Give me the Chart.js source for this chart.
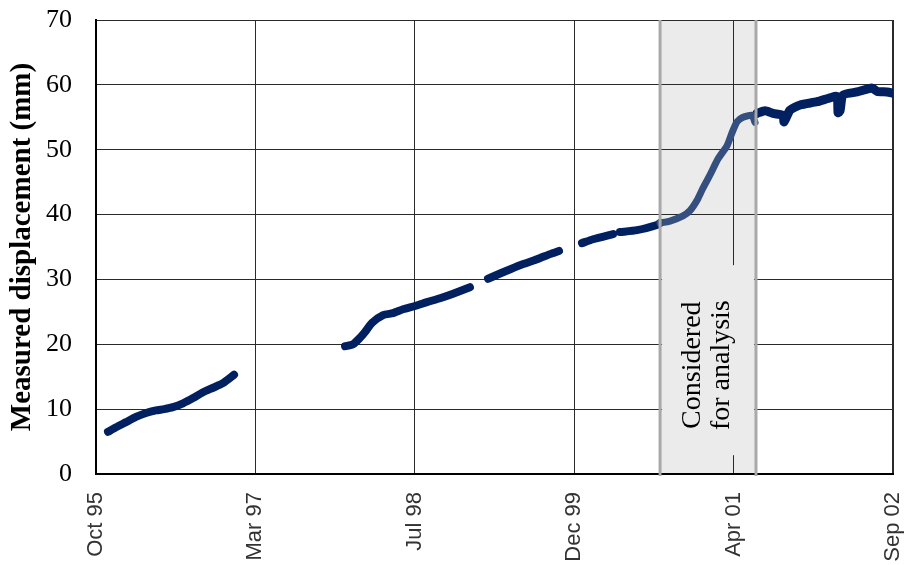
<!DOCTYPE html>
<html>
<head>
<meta charset="utf-8">
<script src="https://cdn.jsdelivr.net/npm/chart.js@4"></script>
<style>
  body { margin: 0; background: #fff; }
  #wrap { width: 906px; height: 565px; position: relative; }
</style>
</head>
<body>
<div id="wrap"><canvas id="chart"></canvas></div>
<script>
// x axis tick labels (evenly spaced from Oct 95 to Sep 02)
const tickLabels = ['Oct 95', 'Mar 97', 'Jul 98', 'Dec 99', 'Apr 01', 'Sep 02'];
const xMin = 1995.75;
const xMax = 2002.73;

// measured displacement (mm), time in decimal years, null = gap in record
const years = [
  1995.855, 1995.925, 1996.013, 1996.100, 1996.188, 1996.275, 1996.346, 1996.424,
  1996.512, 1996.600, 1996.687, 1996.775, 1996.862, 1996.959,
  1997.50,
  1997.931, 1998.001, 1998.062, 1998.106, 1998.167, 1998.264, 1998.351, 1998.439,
  1998.544, 1998.649, 1998.763, 1998.877, 1999.025,
  1999.10,
  1999.183, 1999.314, 1999.463, 1999.612, 1999.726, 1999.805,
  1999.90,
  2000.006, 2000.103, 2000.278,
  2000.31,
  2000.339, 2000.488, 2000.663, 2000.690,
  2001.10,
  2001.539, 2001.609, 2001.679, 2001.767, 2001.776, 2001.828, 2001.916, 2002.065,
  2002.178, 2002.240, 2002.249, 2002.266, 2002.292, 2002.415, 2002.546, 2002.590,
  2002.678, 2002.730
];
const displacement = [
  6.5, 7.2, 8.0, 8.8, 9.4, 9.8, 10.0, 10.3,
  10.9, 11.7, 12.6, 13.3, 14.0, 15.3,
  null,
  19.7, 20.0, 21.0, 21.9, 23.3, 24.5, 24.8, 25.4,
  25.9, 26.5, 27.1, 27.8, 28.8,
  null,
  30.1, 31.1, 32.2, 33.1, 33.9, 34.4,
  null,
  35.6, 36.2, 37.0,
  null,
  37.3, 37.6, 38.4, 38.7,
  null,
  55.6, 56.0, 55.6, 55.3, 54.3, 56.1, 56.9, 57.4,
  58.0, 58.2, 55.7, 56.0, 58.4, 58.9, 59.5, 59.0,
  58.9, 58.7
];

// period considered for analysis
const windowStart = 2000.69;
const windowEnd = 2001.53;
const windowYears = [
  2000.690, 2000.777, 2000.891, 2000.952, 2001.014, 2001.066, 2001.127, 2001.198,
  2001.276, 2001.320, 2001.364, 2001.416, 2001.495, 2001.522
];
const windowDisp = [
  38.7, 39.0, 39.8, 40.6, 42.2, 44.1, 46.1, 48.6,
  50.6, 52.6, 54.3, 55.0, 55.3, 54.2
];
const windowText = ['Considered', 'for analysis'];

const toPoints = (xs, ys) => xs.map((x, i) => ({ x: x, y: ys[i] }));

const windowPlugin = {
  id: 'analysisWindow',
  beforeDraw(chart) {
    const { ctx, chartArea, scales } = chart;
    const x0 = scales.x.getPixelForValue(windowStart);
    const x1 = scales.x.getPixelForValue(windowEnd);
    ctx.save();
    ctx.fillStyle = '#ebebeb';
    ctx.fillRect(x0, chartArea.top, x1 - x0, chartArea.bottom - chartArea.top);
    ctx.restore();
  },
  beforeDatasetsDraw(chart) {
    const { ctx, scales } = chart;
    const x0 = scales.x.getPixelForValue(windowStart);
    const x1 = scales.x.getPixelForValue(windowEnd);
    const yTop = scales.y.getPixelForValue(32.2);
    const yBot = scales.y.getPixelForValue(2.9);
    ctx.save();
    ctx.fillStyle = '#ebebeb';
    ctx.fillRect(x0 + 2, yTop, x1 - x0 - 4, yBot - yTop);
    ctx.fillStyle = '#000';
    ctx.font = '28px "Liberation Serif", "Times New Roman", serif';
    ctx.textAlign = 'center';
    ctx.textBaseline = 'alphabetic';
    const yc = (yTop + yBot) / 2 + 5;
    [x0 + 40, x0 + 69].forEach((bx, i) => {
      ctx.save();
      ctx.translate(bx, yc);
      ctx.rotate(-Math.PI / 2);
      ctx.fillText(windowText[i], 0, 0);
      ctx.restore();
    });
    ctx.restore();
  },
  afterDatasetsDraw(chart) {
    const { ctx, chartArea, scales } = chart;
    ctx.save();
    ctx.strokeStyle = '#a9a9a9';
    ctx.lineWidth = 3;
    [windowStart, windowEnd].forEach(v => {
      const px = scales.x.getPixelForValue(v);
      ctx.beginPath();
      ctx.moveTo(px, chartArea.top);
      ctx.lineTo(px, chartArea.bottom + 2);
      ctx.stroke();
    });
    ctx.restore();
  }
};

new Chart(document.getElementById('chart'), {
  type: 'line',
  data: {
    datasets: [
      {
        data: toPoints(windowYears, windowDisp),
        borderColor: '#35507e',
        borderWidth: 7,
        pointRadius: 0,
        tension: 0.2,
        borderCapStyle: 'round',
        borderJoinStyle: 'round'
      },
      {
        data: toPoints(years, displacement),
        borderColor: '#002060',
        borderWidth: 8,
        pointRadius: 0,
        tension: 0.2,
        spanGaps: false,
        borderCapStyle: 'round',
        borderJoinStyle: 'round',
        segment: {
          borderWidth: c => (c.p0.parsed.x > 2001.5 ? 9 : 8)
        }
      }
    ]
  },
  options: {
    responsive: true,
    maintainAspectRatio: false,
    animation: false,
    layout: { padding: { top: 20, right: 13, left: 0, bottom: 0 } },
    plugins: { legend: { display: false }, tooltip: { enabled: false } },
    scales: {
      x: {
        type: 'linear',
        min: xMin,
        max: xMax,
        afterBuildTicks: scale => {
          scale.ticks = tickLabels.map((_, i) => ({ value: xMin + i * (xMax - xMin) / (tickLabels.length - 1) }));
        },
        afterFit: scale => {
          scale.height = 91;
          scale.paddingLeft = 0;
          scale.paddingRight = 0;
        },
        ticks: {
          autoSkip: false,
          maxRotation: 90,
          minRotation: 90,
          padding: 18,
          color: '#333',
          font: { family: '"Liberation Sans", Arial, sans-serif', size: 22 },
          callback: (v, i) => tickLabels[i]
        },
        grid: {
          color: '#2a2a2a',
          lineWidth: c => (c.index === tickLabels.length - 1 ? 2 : 1),
          drawTicks: false
        },
        border: { color: '#000', width: 2 }
      },
      y: {
        min: 0,
        max: 70,
        afterFit: scale => {
          scale.width = 96;
          scale.paddingTop = 0;
          scale.paddingBottom = 0;
        },
        ticks: {
          stepSize: 10,
          padding: 24,
          color: '#000',
          font: { family: '"Liberation Serif", "Times New Roman", serif', size: 26 }
        },
        grid: { color: '#2a2a2a', lineWidth: 1, drawTicks: false },
        border: { color: '#000', width: 2 },
        title: {
          display: true,
          text: 'Measured displacement (mm)',
          color: '#000',
          padding: { top: 5, bottom: 0 },
          font: { family: '"Liberation Serif", "Times New Roman", serif', size: 29, weight: 'bold' }
        }
      }
    }
  },
  plugins: [windowPlugin]
});
</script>
</body>
</html>
